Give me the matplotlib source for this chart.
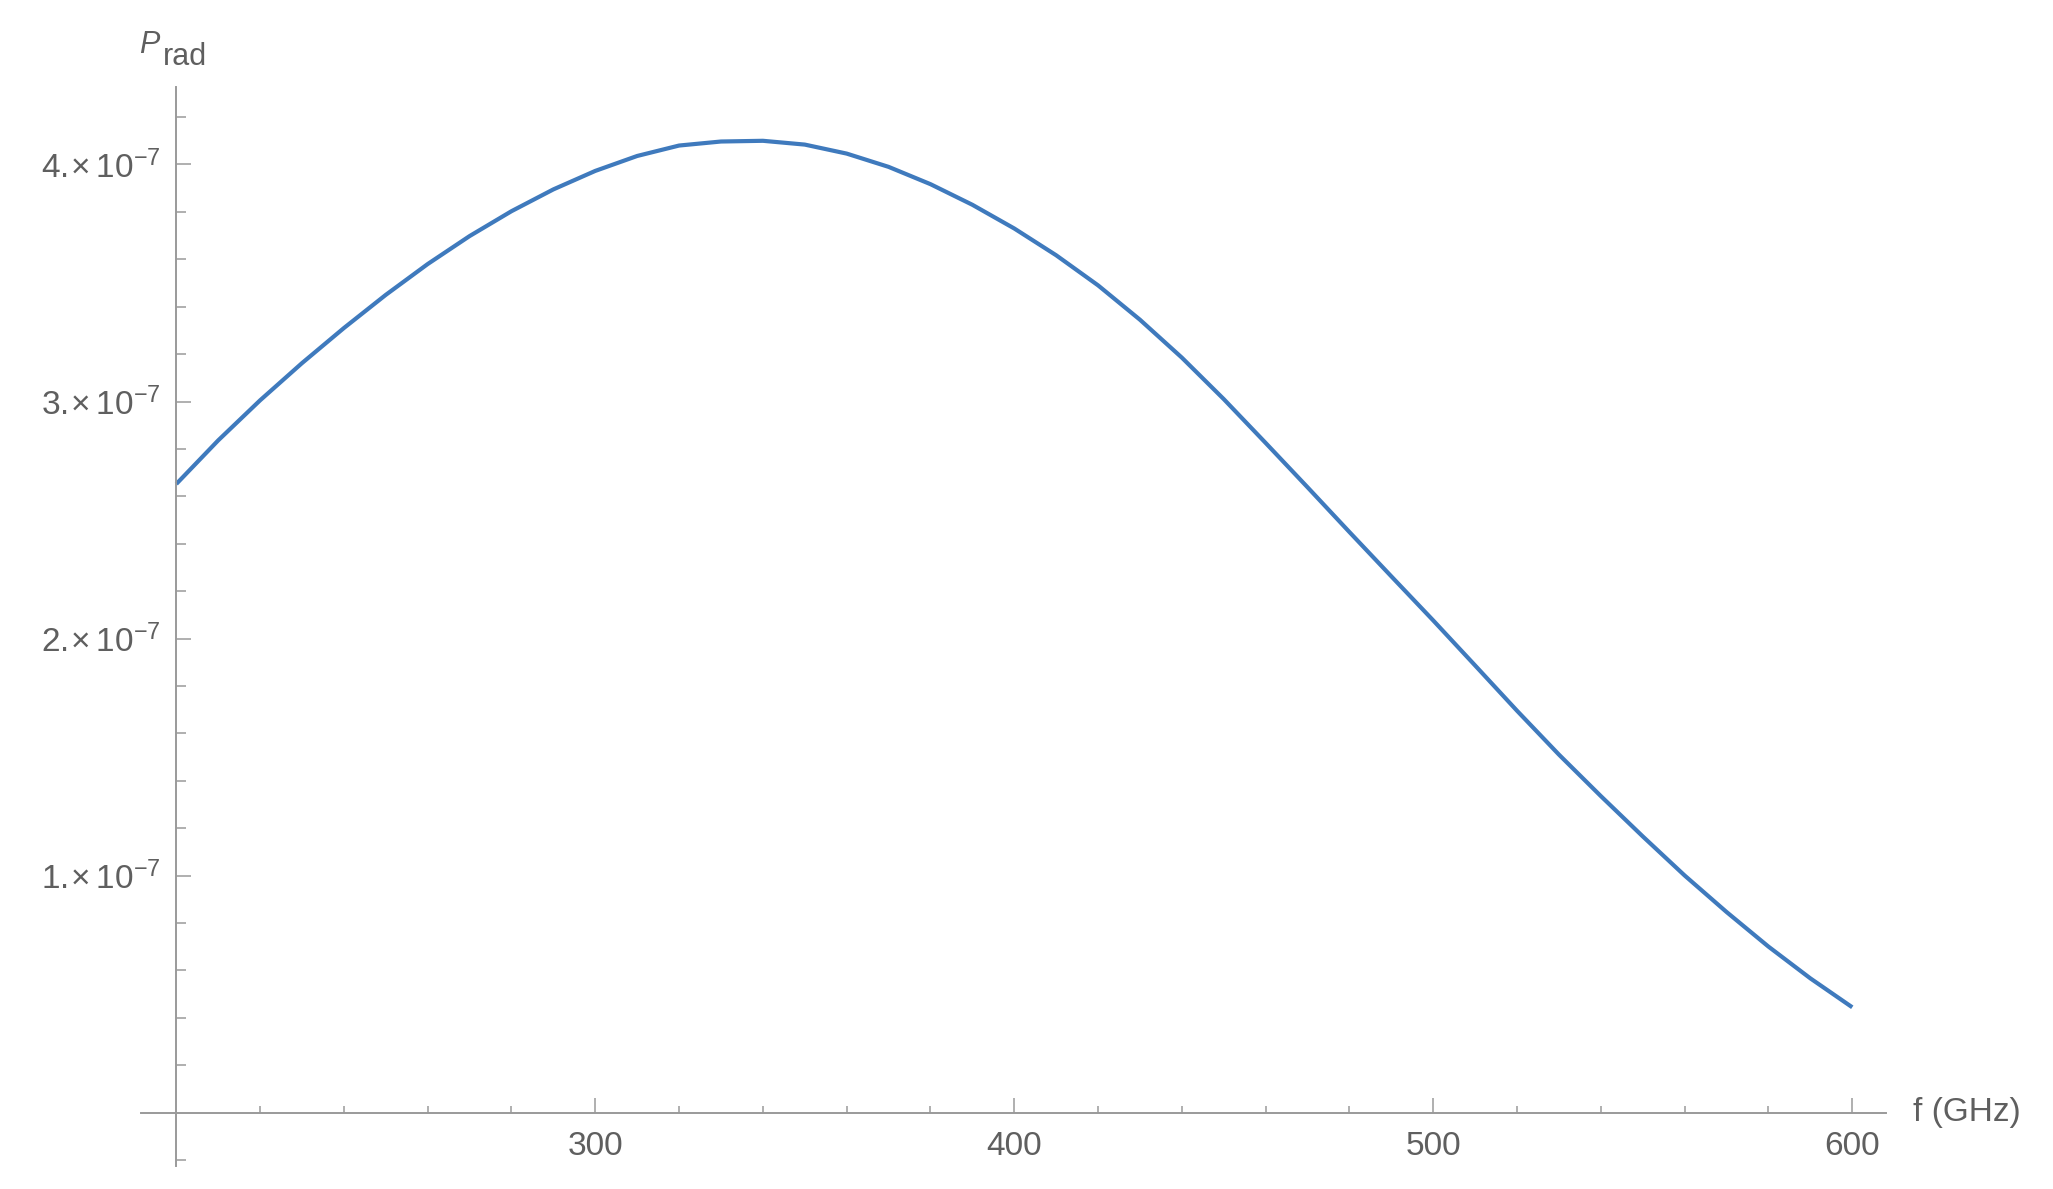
import numpy as np
import matplotlib
matplotlib.use("Agg")
import matplotlib.pyplot as plt
from matplotlib.ticker import FixedLocator, FuncFormatter

# Fonts (Mathematica-like plain sans)
plt.rcParams['font.family'] = ['Liberation Sans', 'DejaVu Sans']
plt.rcParams['mathtext.fontset'] = 'custom'
plt.rcParams['mathtext.rm'] = 'Liberation Sans'
plt.rcParams['mathtext.it'] = 'Liberation Sans:italic'

# Data (f in GHz, P_rad in units of 1e-7)
freq_ghz = [200, 210, 220, 230, 240, 250, 260, 270, 280, 290,
            300, 310, 320, 330, 340, 350, 360, 370, 380, 390,
            400, 410, 420, 430, 440, 450, 460, 470, 480, 490,
            500, 510, 520, 530, 540, 550, 560, 570, 580, 590, 600]
p_rad_e7 = [2.652, 2.836, 3.005, 3.162, 3.310, 3.450, 3.580, 3.698, 3.803, 3.895,
            3.973, 4.036, 4.080, 4.097, 4.100, 4.084, 4.046, 3.990, 3.917, 3.830,
            3.730, 3.617, 3.490, 3.345, 3.185, 3.010, 2.825, 2.638, 2.449, 2.262,
            2.076, 1.886, 1.695, 1.510, 1.335, 1.165, 1.000, 0.846, 0.700, 0.566, 0.444]

# Tick positions
x_major = [300, 400, 500, 600]
x_minor = [220, 240, 260, 280, 320, 340, 360, 380, 420, 440, 460, 480,
           520, 540, 560, 580]
y_major = [1e-7, 2e-7, 3e-7, 4e-7]
y_minor = [-0.2e-7, 0.2e-7, 0.4e-7, 0.6e-7, 0.8e-7, 1.2e-7, 1.4e-7, 1.6e-7,
           1.8e-7, 2.2e-7, 2.4e-7, 2.6e-7, 2.8e-7, 3.2e-7, 3.4e-7, 3.6e-7,
           3.8e-7, 4.2e-7]

axis_gray = '#9a9a9a'
text_gray = '#5f5f5f'
line_blue = '#3f7abd'

fig = plt.figure(figsize=(20.53, 11.89), dpi=100)
ax = fig.add_axes([0.06853, 0.01968, 0.85022, 0.90715])

ax.plot(np.array(freq_ghz), np.array(p_rad_e7) * 1e-7, color=line_blue,
        lw=3.0, solid_joinstyle='round', solid_capstyle='butt')

ax.set_xlim(191.5, 608.1)
ax.set_ylim(-0.224e-7, 4.327e-7)

# Mathematica-style axes crossing at (200, 0)
for side in ['top', 'right']:
    ax.spines[side].set_visible(False)
ax.spines['left'].set_position(('data', 200))
ax.spines['bottom'].set_position(('data', 0))
for side in ['left', 'bottom']:
    ax.spines[side].set_color(axis_gray)
    ax.spines[side].set_linewidth(1.4)

ax.xaxis.set_major_locator(FixedLocator(x_major))
ax.xaxis.set_minor_locator(FixedLocator(x_minor))
ax.yaxis.set_major_locator(FixedLocator(y_major))
ax.yaxis.set_minor_locator(FixedLocator(y_minor))

def sci_label(v, pos):
    return r'$\mathregular{%d.\!\!\times10^{-7}}$' % round(v * 1e7)

ax.yaxis.set_major_formatter(FuncFormatter(sci_label))

ax.tick_params(axis='both', which='both', direction='in', color=axis_gray,
               width=1.1, labelcolor=text_gray, labelsize=24)
ax.tick_params(axis='x', which='major', length=11, pad=13)
ax.tick_params(axis='x', which='minor', length=5)
ax.tick_params(axis='y', which='major', length=11, pad=11)
ax.tick_params(axis='y', which='minor', length=7)

# Axis labels at the ends of the axes
ax.annotate('f (GHz)', xy=(1, 0), xycoords=('axes fraction', 'data'),
            xytext=(19, 0), textcoords='offset points',
            ha='left', va='center', fontsize=24, color=text_gray)
fig.text(139 / 2053, 1 - 53 / 1189, 'P', style='italic', fontsize=22,
         color=text_gray, ha='left', va='baseline')
fig.text(163 / 2053, 1 - 65 / 1189, 'rad', fontsize=22,
         color=text_gray, ha='left', va='baseline')

plt.savefig('out.png', dpi=100)
